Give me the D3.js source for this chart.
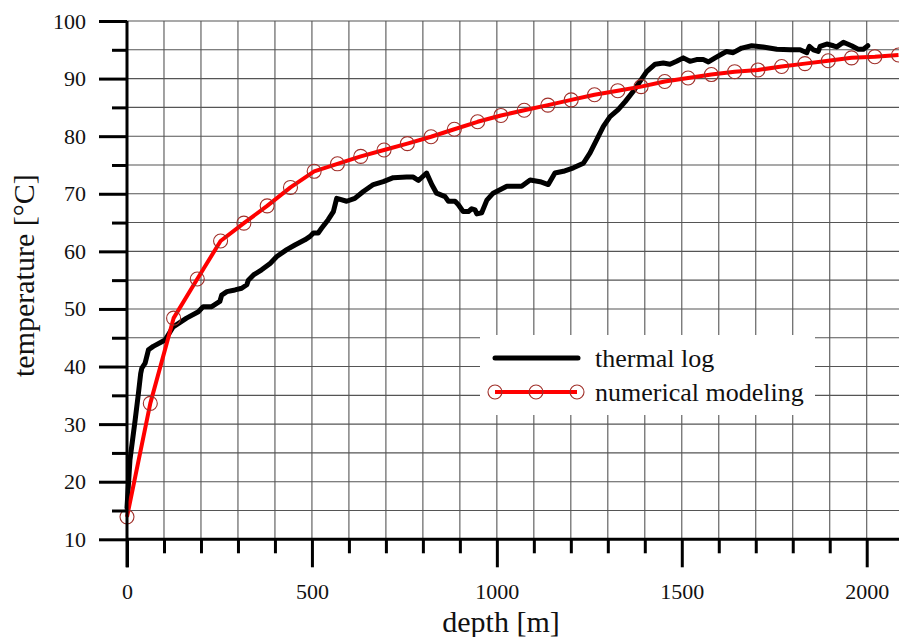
<!DOCTYPE html>
<html><head><meta charset="utf-8">
<script src="https://cdn.jsdelivr.net/npm/d3@7"></script>
<style>body{margin:0;background:#fff}svg{display:block}</style>
</head><body><svg id="c" width="899" height="637"></svg>
<script>
// thermal log (depth m, temperature °C)
const logDepth = [0,8,22,31,37,40,49,58,71,103,125,161,193,206,229,251,256,270,292,310,324,328,342,364,387,405,432,454,481,495,504,517,526,544,558,567,594,616,639,666,693,720,756,774,788,810,824,837,860,869,887,896,909,923,932,941,946,959,973,990,1027,1067,1090,1117,1139,1157,1180,1207,1234,1252,1270,1288,1306,1328,1347,1369,1387,1405,1428,1450,1468,1486,1504,1522,1540,1558,1572,1590,1612,1621,1639,1662,1689,1720,1757,1793,1820,1838,1845,1856,1869,1874,1892,1910,1919,1937,1959,1977,1991,2003];
const logTemp  = [15.5,23.8,30.7,35.4,38.8,39.7,40.6,42.9,43.5,44.6,46.9,48.4,49.5,50.4,50.4,51.3,52.4,53.0,53.3,53.6,54.2,55.0,55.9,56.8,57.9,59.1,60.3,61.1,62.0,62.6,63.2,63.2,64.0,65.5,66.9,69.2,68.7,69.2,70.4,71.6,72.1,72.8,72.9,72.9,72.3,73.6,71.6,70.1,69.5,68.7,68.7,68.1,66.9,66.9,67.4,67.2,66.5,66.7,68.9,70.1,71.3,71.3,72.4,72.1,71.6,73.6,73.9,74.5,75.3,77.1,79.4,81.7,83.4,84.6,86.0,87.8,89.5,91.2,92.5,92.7,92.5,93.0,93.6,93.0,93.3,93.3,92.9,93.6,94.4,94.7,94.5,95.3,95.7,95.5,95.1,95.0,95.0,94.5,95.6,95.0,94.7,95.6,96.0,95.7,95.5,96.3,95.7,95.1,95.1,95.7];
// numerical modeling
const modDepth = [0,63,126,190,253,316,379,442,506,569,632,695,758,822,885,948,1011,1074,1138,1201,1264,1327,1390,1454,1517,1580,1643,1706,1770,1833,1896,1959,2022,2086];
const modTemp  = [13.9,33.6,48.4,55.2,61.8,64.9,67.9,71.1,73.9,75.2,76.5,77.6,78.7,79.9,81.2,82.5,83.6,84.5,85.4,86.3,87.2,87.9,88.6,89.5,90.1,90.7,91.2,91.5,92.1,92.6,93.1,93.6,93.8,94.1];
const xTickLabels = [0,500,1000,1500,2000];
const yTickLabels = [10,20,30,40,50,60,70,80,90,100];
const seriesNames = ["thermal log","numerical modeling"];

const FONT = "'Liberation Serif','Times New Roman',Times,Tinos,'DejaVu Serif',serif";
const svg = d3.select("#c");
const x = d3.scaleLinear().domain([0,2100]).range([127,903.7]);
const y = d3.scaleLinear().domain([10,100]).range([539.3,21]);

// grid
const g = svg.append("g");
g.selectAll("line.v").data(d3.range(100,2101,100)).join("line")
  .attr("x1",d=>x(d)).attr("x2",d=>x(d)).attr("y1",y(10)).attr("y2",y(100))
  .attr("stroke","#555").attr("stroke-width",1.1);
g.selectAll("line.h").data(d3.range(15,101,5)).join("line")
  .attr("x1",x(0)).attr("x2",899).attr("y1",d=>y(d)).attr("y2",d=>y(d))
  .attr("stroke","#555").attr("stroke-width",1.1);

// lines
const modPts = modDepth.map((d,i)=>[d,modTemp[i]]);
const logPts = logDepth.map((d,i)=>[d,logTemp[i]]);
const line = d3.line().x(d=>x(d[0])).y(d=>y(d[1]));
svg.append("path").attr("d",line(logPts)).attr("fill","none").attr("stroke","#000")
  .attr("stroke-width",5).attr("stroke-linejoin","round").attr("stroke-linecap","round");
svg.append("path").attr("d",line(modPts)).attr("fill","none").attr("stroke","#ff0000")
  .attr("stroke-width",4).attr("stroke-linejoin","round");
svg.selectAll("circle.m").data(modPts).join("circle")
  .attr("cx",d=>x(d[0])).attr("cy",d=>y(d[1])).attr("r",7)
  .attr("fill","none").attr("stroke","#a0302a").attr("stroke-width",1.1);

// axes
const xAxis = d3.axisBottom(x).tickValues(d3.range(0,2101,100)).tickFormat(d=>xTickLabels.includes(d)?d:"")
  .tickSize(14).tickSizeOuter(0);
const gx = svg.append("g").attr("transform",`translate(0,${y(10)})`).call(xAxis).attr("font-family",FONT);
gx.select(".domain").attr("stroke","#000").attr("stroke-width",3).attr("d",`M${x(0)},0H899`);
gx.selectAll(".tick line").attr("stroke","#000").attr("stroke-width",3)
  .attr("y2",d=>xTickLabels.includes(d)?28:14);
gx.selectAll(".tick text").attr("font-size",22).attr("y",44).attr("dy","0.71em")
  .attr("font-family",FONT).attr("fill","#111");

const yAxis = d3.axisLeft(y).tickValues(d3.range(10,101,5)).tickFormat(d=>yTickLabels.includes(d)?d:"")
  .tickSize(15).tickSizeOuter(0);
const gy = svg.append("g").attr("transform",`translate(${x(0)},0)`).call(yAxis).attr("font-family",FONT);
gy.select(".domain").attr("stroke","#000").attr("stroke-width",3).attr("d",`M0,${y(100)}V${y(10)+28}`);
gy.selectAll(".tick line").attr("stroke","#000").attr("stroke-width",3)
  .attr("x2",d=>yTickLabels.includes(d)?-28:-15);
gy.selectAll(".tick text").attr("font-size",22).attr("x",-41)
  .attr("font-family",FONT).attr("fill","#111");

// axis titles
svg.append("text").attr("x",501).attr("y",632).attr("text-anchor","middle")
  .attr("font-family",FONT).attr("font-size",30).attr("fill","#111").text("depth [m]");
svg.append("text").attr("transform","translate(34,377) rotate(-90)").attr("text-anchor","start")
  .attr("font-family",FONT).attr("font-size",30).attr("fill","#111").text("temperature [°C]");

// legend
const lg = svg.append("g");
lg.append("rect").attr("x",480).attr("y",335).attr("width",335).attr("height",80).attr("fill","#fff");
lg.append("line").attr("x1",495).attr("x2",578).attr("y1",358).attr("y2",358)
  .attr("stroke","#000").attr("stroke-width",5).attr("stroke-linecap","round");
lg.append("line").attr("x1",495).attr("x2",577).attr("y1",392).attr("y2",392)
  .attr("stroke","#ff0000").attr("stroke-width",4);
lg.selectAll("circle").data([495,536,577]).join("circle").attr("cx",d=>d).attr("cy",392).attr("r",7)
  .attr("fill","none").attr("stroke","#a0302a").attr("stroke-width",1.1);
lg.append("text").attr("x",595).attr("y",367).attr("font-family",FONT).attr("font-size",26).attr("fill","#111").text(seriesNames[0]);
lg.append("text").attr("x",595).attr("y",401).attr("font-family",FONT).attr("font-size",26).attr("fill","#111").text(seriesNames[1]);
</script></body></html>
